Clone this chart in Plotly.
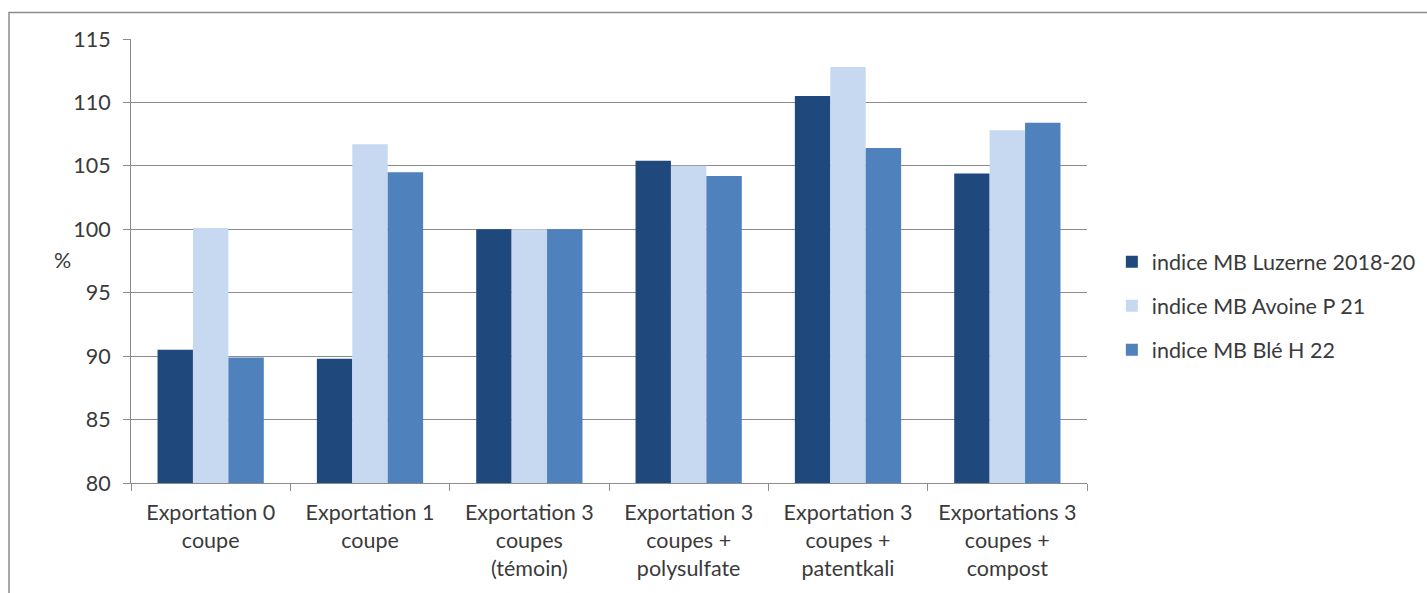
import plotly.graph_objects as go

categories = [
    "Exportation 0<br>coupe",
    "Exportation 1<br>coupe",
    "Exportation 3<br>coupes<br>(témoin)",
    "Exportation 3<br>coupes +<br>polysulfate",
    "Exportation 3<br>coupes +<br>patentkali",
    "Exportations 3<br>coupes +<br>compost",
]
series_names = ["indice MB Luzerne 2018-20", "indice MB Avoine P 21", "indice MB Blé H 22"]
luzerne = [90.5, 89.8, 100.0, 105.4, 110.5, 104.4]
avoine = [100.1, 106.7, 100.0, 105.0, 112.8, 107.8]
ble = [89.9, 104.5, 100.0, 104.2, 106.4, 108.4]
colors = ["#1F497D", "#C6D9F1", "#4F81BD"]
y_ticks = [80, 85, 90, 95, 100, 105, 110, 115]

FONT = "Lato"
FS = 21.5
TXT = "#3A3A3A"
GRID = "#8C8C8C"

fig = go.Figure()
for i, (name, vals) in enumerate(zip(series_names, [luzerne, avoine, ble])):
    fig.add_trace(go.Bar(x=categories, y=vals, name=name, marker_color=colors[i],
                         marker_line_width=0, legendgroup=f"g{i}"))

fig.update_layout(
    width=1427, height=593,
    margin=dict(l=131, r=340, t=39, b=110, autoexpand=False),
    paper_bgcolor="white", plot_bgcolor="white",
    barmode="group", bargap=0.333, bargroupgap=0,
    font=dict(family=FONT, size=FS, color=TXT),
    showlegend=True,
    legend=dict(x=1.026, y=0.399, xanchor="left", yanchor="middle",
                font=dict(family=FONT, size=FS, color=TXT),
                tracegroupgap=13, itemwidth=30, bgcolor="rgba(0,0,0,0)"),
    xaxis=dict(showline=True, linecolor=GRID, linewidth=1, ticks="outside",
               ticklen=7, tickcolor=GRID, tickson="boundaries",
               tickfont=dict(family=FONT, size=FS, color=TXT), ticklabelstandoff=10,
               showgrid=False),
    yaxis=dict(range=[80, 115], tickvals=y_ticks, showline=True, linecolor=GRID,
               linewidth=1, ticks="outside", ticklen=7, tickcolor=GRID,
               gridcolor=GRID, gridwidth=1, showgrid=True, zeroline=False,
               tickfont=dict(family=FONT, size=FS, color=TXT), ticklabelstandoff=8),
)

fig.add_annotation(text="%", xref="paper", yref="paper", x=-0.0826, y=0.502,
                   showarrow=False, font=dict(family=FONT, size=FS, color=TXT))

fig.add_shape(type="rect", xref="paper", yref="paper", x0=-0.1276, x1=1.6,
              y0=-0.5, y1=1.0597, line=dict(color="#8C8C8C", width=1.5),
              fillcolor="rgba(0,0,0,0)", layer="below")

fig.write_html("out.html")
